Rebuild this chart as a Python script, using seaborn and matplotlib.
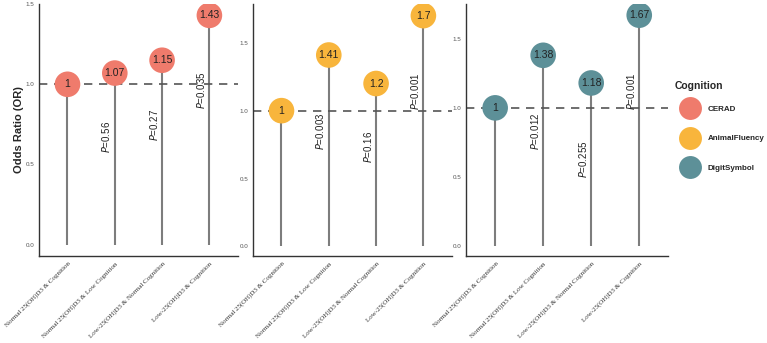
import matplotlib
matplotlib.use("Agg")
import matplotlib.pyplot as plt
import seaborn as sns
import pandas as pd
from matplotlib.lines import Line2D

groups = ["Normal 25(OH)D3 & Cognition",
          "Normal 25(OH)D3 & Low Cognition",
          "Low-25(OH)D3 & Normal Cognition",
          "Low-25(OH)D3 & Cognition"]
cognition = ["CERAD", "AnimalFluency", "DigitSymbol"]
colors = ["#EF7B6C", "#F8B53C", "#5D9098"]

or_cerad = [1, 1.07, 1.15, 1.43]
or_animal = [1, 1.41, 1.2, 1.7]
or_digit = [1, 1.38, 1.18, 1.67]

p_cerad = [None, "0.56", "0.27", "0.035"]
p_animal = [None, "0.003", "0.16", "0.001"]
p_digit = [None, "0.012", "0.255", "0.001"]

# where the P labels sit (data y, centre of the rotated text)
p_y_cerad = [None, 0.67, 0.745, 0.96]
p_y_animal = [None, 0.85, 0.73, 1.14]
p_y_digit = [None, 0.83, 0.63, 1.12]

ylims = [(-0.07, 1.5), (-0.07, 1.785), (-0.07, 1.75)]

sns.set_style("white")
plt.rcParams["font.family"] = ["Liberation Sans", "DejaVu Sans"]

fig = plt.figure(figsize=(7.67, 3.43), dpi=100)
lefts = [0.051, 0.330, 0.608]
widths = [0.259, 0.259, 0.263]

panels = [(or_cerad, p_cerad, p_y_cerad),
          (or_animal, p_animal, p_y_animal),
          (or_digit, p_digit, p_y_digit)]

for i, (vals, pv, py) in enumerate(panels):
    ax = fig.add_axes([lefts[i], 0.254, widths[i], 0.734])
    df = pd.DataFrame({"x": range(len(groups)), "OR": vals})
    ax.vlines(df["x"], 0, df["OR"], color="#7d7d7d", lw=1.5, zorder=1)
    ax.axhline(1, color="#555555", lw=1.2, ls=(0, (5, 4)), zorder=2,
               clip_on=False)
    sns.scatterplot(data=df, x="x", y="OR", ax=ax, color=colors[i], s=340,
                    edgecolor="none", zorder=3, legend=False)
    for x, v in zip(df["x"], vals):
        ax.text(x, v, f"{v:g}", ha="center", va="center", fontsize=7.5,
                color="#222222", zorder=4)
    for x, p, y in zip(df["x"], pv, py):
        if p is None:
            continue
        ax.text(x - 0.18, y, "$P$=" + p, rotation=90, ha="center",
                va="center", fontsize=7, color="#222222", zorder=4)
    ax.set_xlim(-0.6, 3.6)
    ax.set_ylim(*ylims[i])
    ax.set_yticks([0, 0.5, 1.0, 1.5])
    ax.set_yticklabels(["0.0", "0.5", "1.0", "1.5"], fontsize=4.5,
                       color="#555555")
    ax.set_xticks(range(len(groups)))
    ax.set_xticklabels(groups, rotation=45, ha="right", rotation_mode="anchor",
                       fontsize=5, family=["Liberation Serif"],
                       color="#333333")
    ax.tick_params(axis="both", length=2, width=0.6, color="#333333", pad=1.5)
    ax.set_xlabel("")
    for s in ["top", "right"]:
        ax.spines[s].set_visible(False)
    for s in ["left", "bottom"]:
        ax.spines[s].set_color("#333333")
        ax.spines[s].set_linewidth(1.0)
    if i == 0:
        ax.set_ylabel("Odds Ratio (OR)", fontsize=8, fontweight="bold",
                      labelpad=1)
    else:
        ax.set_ylabel("")

handles = [Line2D([], [], marker="o", ls="", markersize=16.5, color=c,
                  markeredgecolor="none") for c in colors]
leg = fig.legend(handles, cognition, title="Cognition", loc="upper left",
                 bbox_to_anchor=(0.872, 0.78), frameon=False, fontsize=5.8,
                 title_fontsize=7.5, labelspacing=2.75, handletextpad=0.2,
                 handlelength=3.9, borderpad=0.2)
leg.get_title().set_fontweight("bold")
leg._legend_box.align = "left"
leg._legend_box.sep = 10
for t in leg.get_texts():
    t.set_fontweight("bold")

fig.savefig("out.png", dpi=100)
